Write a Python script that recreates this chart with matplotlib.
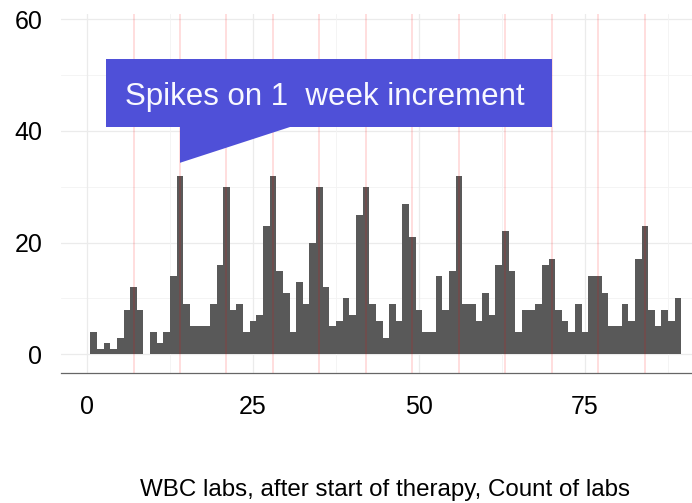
import matplotlib
matplotlib.use("Agg")
import matplotlib.pyplot as plt
from matplotlib.patches import Polygon, Rectangle

plt.rcParams['font.family'] = ['Liberation Sans', 'DejaVu Sans']

# Day after start of therapy (day 9 has no labs)
days = [1, 2, 3, 4, 5, 6, 7, 8,
        10, 11, 12, 13, 14, 15, 16, 17, 18, 19, 20,
        21, 22, 23, 24, 25, 26, 27, 28, 29, 30,
        31, 32, 33, 34, 35, 36, 37, 38, 39, 40,
        41, 42, 43, 44, 45, 46, 47, 48, 49, 50,
        51, 52, 53, 54, 55, 56, 57, 58, 59, 60,
        61, 62, 63, 64, 65, 66, 67, 68, 69, 70,
        71, 72, 73, 74, 75, 76, 77, 78, 79, 80,
        81, 82, 83, 84, 85, 86, 87, 88, 89]
counts = [4, 1, 2, 1, 3, 8, 12, 8,
          4, 2, 4, 14, 32, 9, 5, 5, 5, 9, 16,
          30, 8, 9, 4, 6, 7, 23, 32, 15, 11,
          4, 13, 9, 20, 30, 12, 5, 6, 10, 7,
          25, 30, 9, 6, 3, 9, 6, 27, 21, 8,
          4, 4, 14, 8, 15, 32, 9, 9, 6, 11,
          7, 16, 22, 15, 4, 8, 8, 9, 16, 17,
          8, 6, 4, 9, 4, 14, 14, 11, 5, 5,
          9, 6, 17, 23, 8, 5, 8, 6, 10]
week_marks = [7, 14, 21, 28, 35, 42, 49, 56, 63, 70, 77, 84]
x_ticks = [0, 25, 50, 75]
x_minor = [12.5, 37.5, 62.5, 87.5]
y_ticks = [0, 20, 40, 60]
y_minor = [10, 30, 50]

annot_text = "Spikes on 1  week increment"
x_title = "WBC labs, after start of therapy, Count of labs"

fig = plt.figure(figsize=(6.92, 5.03), dpi=100)
ax = fig.add_axes([61 / 692, 1 - 373 / 503, 631 / 692, 359 / 503])
ax.set_xlim(-3.92, 91.1)
ax.set_ylim(-3.35, 60.95)

# grid
grid_c = '#ebebeb'
for v in y_ticks:
    ax.axhline(v, color=grid_c, lw=0.9, zorder=0)
for v in y_minor:
    ax.axhline(v, color='#f3f3f3', lw=0.6, zorder=0)
for v in x_ticks:
    ax.axvline(v, color=grid_c, lw=0.9, zorder=0)
for v in x_minor:
    ax.axvline(v, color='#f3f3f3', lw=0.6, zorder=0)

ax.bar(days, counts, width=1.0, color='#595959', zorder=2, linewidth=0)

for w in week_marks:
    ax.axvline(w, color='red', alpha=0.17, lw=1.1, zorder=3)

# annotation callout
box_x0, box_x1, box_y0, box_y1 = 2.86, 70.03, 40.7, 52.9
tip_x, tip_y, tail_x = 14.0, 34.3, 30.8
callout_c = '#4f50d8'
ax.add_patch(Rectangle((box_x0, box_y0), box_x1 - box_x0, box_y1 - box_y0,
                       facecolor=callout_c, edgecolor='none', zorder=4))
ax.add_patch(Polygon([(tip_x, box_y0 + 0.1), (tip_x, tip_y), (tail_x, box_y0 + 0.1)],
                     closed=True, facecolor=callout_c, edgecolor='none', zorder=4))
ax.text((box_x0 + box_x1) / 2 - 0.6, 44.65, annot_text, color='#f8f8ff',
        fontsize=22.5, ha='center', va='baseline', zorder=5)

for s in ['top', 'right', 'left']:
    ax.spines[s].set_visible(False)
ax.spines['bottom'].set_color('#666666')
ax.spines['bottom'].set_linewidth(0.9)

ax.set_xticks(x_ticks)
ax.set_xticklabels([str(t) for t in x_ticks])
ax.set_yticks(y_ticks)
ax.set_yticklabels([str(t) for t in y_ticks])
ax.tick_params(axis='both', length=0, labelsize=18, colors='black')
ax.tick_params(axis='y', pad=13.5)
ax.tick_params(axis='x', pad=15.5)

ax.set_xlabel(x_title, fontsize=17.4)
ax.xaxis.label.set_va('baseline')
ax.xaxis.set_label_coords(0.513, -0.343)

fig.savefig('out.png', dpi=100)
